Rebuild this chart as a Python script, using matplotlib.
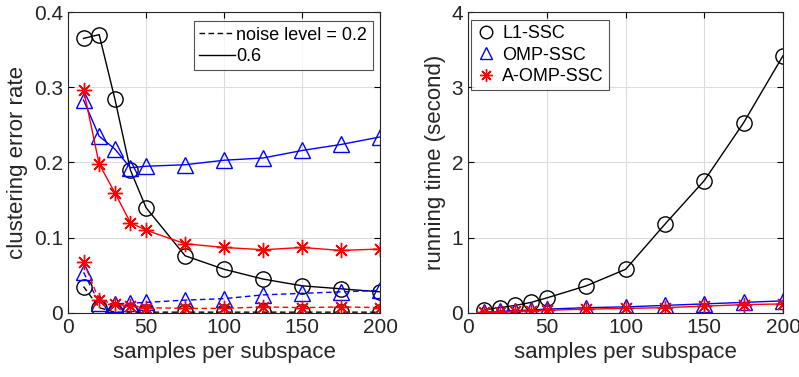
import numpy as np
import matplotlib
matplotlib.use("Agg")
import matplotlib.pyplot as plt
from matplotlib.lines import Line2D

plt.rcParams['font.family'] = ['Liberation Sans', 'DejaVu Sans']

samples = [10, 20, 30, 40, 50, 75, 100, 125, 150, 175, 200]

# clustering error rate, noise level 0.6 (solid)
err_l1_06 = [0.365, 0.370, 0.285, 0.190, 0.140, 0.076, 0.058, 0.045, 0.036, 0.032, 0.028]
err_omp_06 = [0.283, 0.235, 0.218, 0.193, 0.195, 0.197, 0.203, 0.206, 0.216, 0.224, 0.234]
err_aomp_06 = [0.297, 0.198, 0.160, 0.120, 0.110, 0.092, 0.087, 0.084, 0.087, 0.083, 0.085]
# noise level 0.2 (dashed)
err_l1_02 = [0.035, 0.007, 0.001, 0.001, 0.001, 0.001, 0.001, 0.001, 0.001, 0.001, 0.001]
err_omp_02 = [0.054, 0.013, 0.012, 0.013, 0.014, 0.017, 0.019, 0.024, 0.026, 0.028, 0.030]
err_aomp_02 = [0.068, 0.017, 0.012, 0.009, 0.007, 0.006, 0.006, 0.008, 0.007, 0.008, 0.007]

# running time (second)
time_l1 = [0.04, 0.07, 0.10, 0.14, 0.20, 0.36, 0.58, 1.18, 1.76, 2.53, 3.42]
time_omp = [0.01, 0.02, 0.03, 0.04, 0.05, 0.07, 0.08, 0.10, 0.12, 0.14, 0.16]
time_aomp = [0.01, 0.015, 0.02, 0.03, 0.035, 0.05, 0.06, 0.07, 0.09, 0.11, 0.12]

fig = plt.figure(figsize=(7.99, 3.77), dpi=100)
ax1 = fig.add_axes([0.085, 0.170, 0.391, 0.798])
ax2 = fig.add_axes([0.586, 0.170, 0.394, 0.798])

# MATLAB-like asterisk: 8 spokes
star = (8, 2, 0)
styles = [("k", "o", 11), ("b", "^", 11), ("r", star, 11)]

def style_ax(ax):
    ax.grid(True, color="#dcdcdc", linewidth=0.8)
    ax.set_axisbelow(True)
    ax.tick_params(direction="in", top=True, right=True, labelsize=15, length=4,
                   labelcolor="#262626")
    for s in ax.spines.values():
        s.set_color("#262626")
        s.set_linewidth(0.8)
    ax.set_xlim(0, 200)
    ax.set_xticks([0, 50, 100, 150, 200])
    ax.set_xlabel("samples per subspace", fontsize=16, color="#262626")

# left panel
for ys, (c, m, s) in zip([err_l1_06, err_omp_06, err_aomp_06], styles):
    ax1.plot(samples, ys, color=c, marker=m, markersize=s, markerfacecolor="none",
             markeredgecolor=c, linewidth=1)
for ys, (c, m, s) in zip([err_l1_02, err_omp_02, err_aomp_02], styles):
    ax1.plot(samples, ys, color=c, marker=m, markersize=s, markerfacecolor="none",
             markeredgecolor=c, linewidth=1, linestyle=(0, (4, 2.5)))
style_ax(ax1)
ax1.set_ylim(0, 0.4)
ax1.set_yticks([0, 0.1, 0.2, 0.3, 0.4])
ax1.set_yticklabels(["0", "0.1", "0.2", "0.3", "0.4"])
ax1.set_ylabel("clustering error rate", fontsize=16, color="#262626")
h = [Line2D([], [], color="k", linestyle=(0, (4, 2.5)), linewidth=1),
     Line2D([], [], color="k", linewidth=1)]
leg = ax1.legend(h, ["noise level = 0.2", "0.6"], loc="upper right", fontsize=13,
                 frameon=True, fancybox=False, edgecolor="#262626", handlelength=2.0,
                 handletextpad=0.05, borderpad=0.3, labelspacing=0.25,
                 borderaxespad=0.0, bbox_to_anchor=(0.975, 0.97))
leg.get_frame().set_linewidth(0.8)

# right panel
for ys, (c, m, s) in zip([time_l1, time_omp, time_aomp], styles):
    ax2.plot(samples, ys, color=c, marker=m, markersize=s, markerfacecolor="none",
             markeredgecolor=c, linewidth=1)
style_ax(ax2)
ax2.set_ylim(0, 4)
ax2.set_yticks([0, 1, 2, 3, 4])
ax2.set_ylabel("running time (second)", fontsize=16, color="#262626")
h2 = [Line2D([], [], color=c, marker=m, markersize=s - 2, markerfacecolor="none", linestyle="none")
      for c, m, s in styles]
leg2 = ax2.legend(h2, ["L1-SSC", "OMP-SSC", "A-OMP-SSC"], loc="upper left", fontsize=13,
                  frameon=True, fancybox=False, edgecolor="#262626", handlelength=1.0,
                  handletextpad=0.4, borderpad=0.3, labelspacing=0.25,
                  borderaxespad=0.0, bbox_to_anchor=(0.01, 0.975))
leg2.get_frame().set_linewidth(0.8)

fig.savefig("out.png", dpi=100)
